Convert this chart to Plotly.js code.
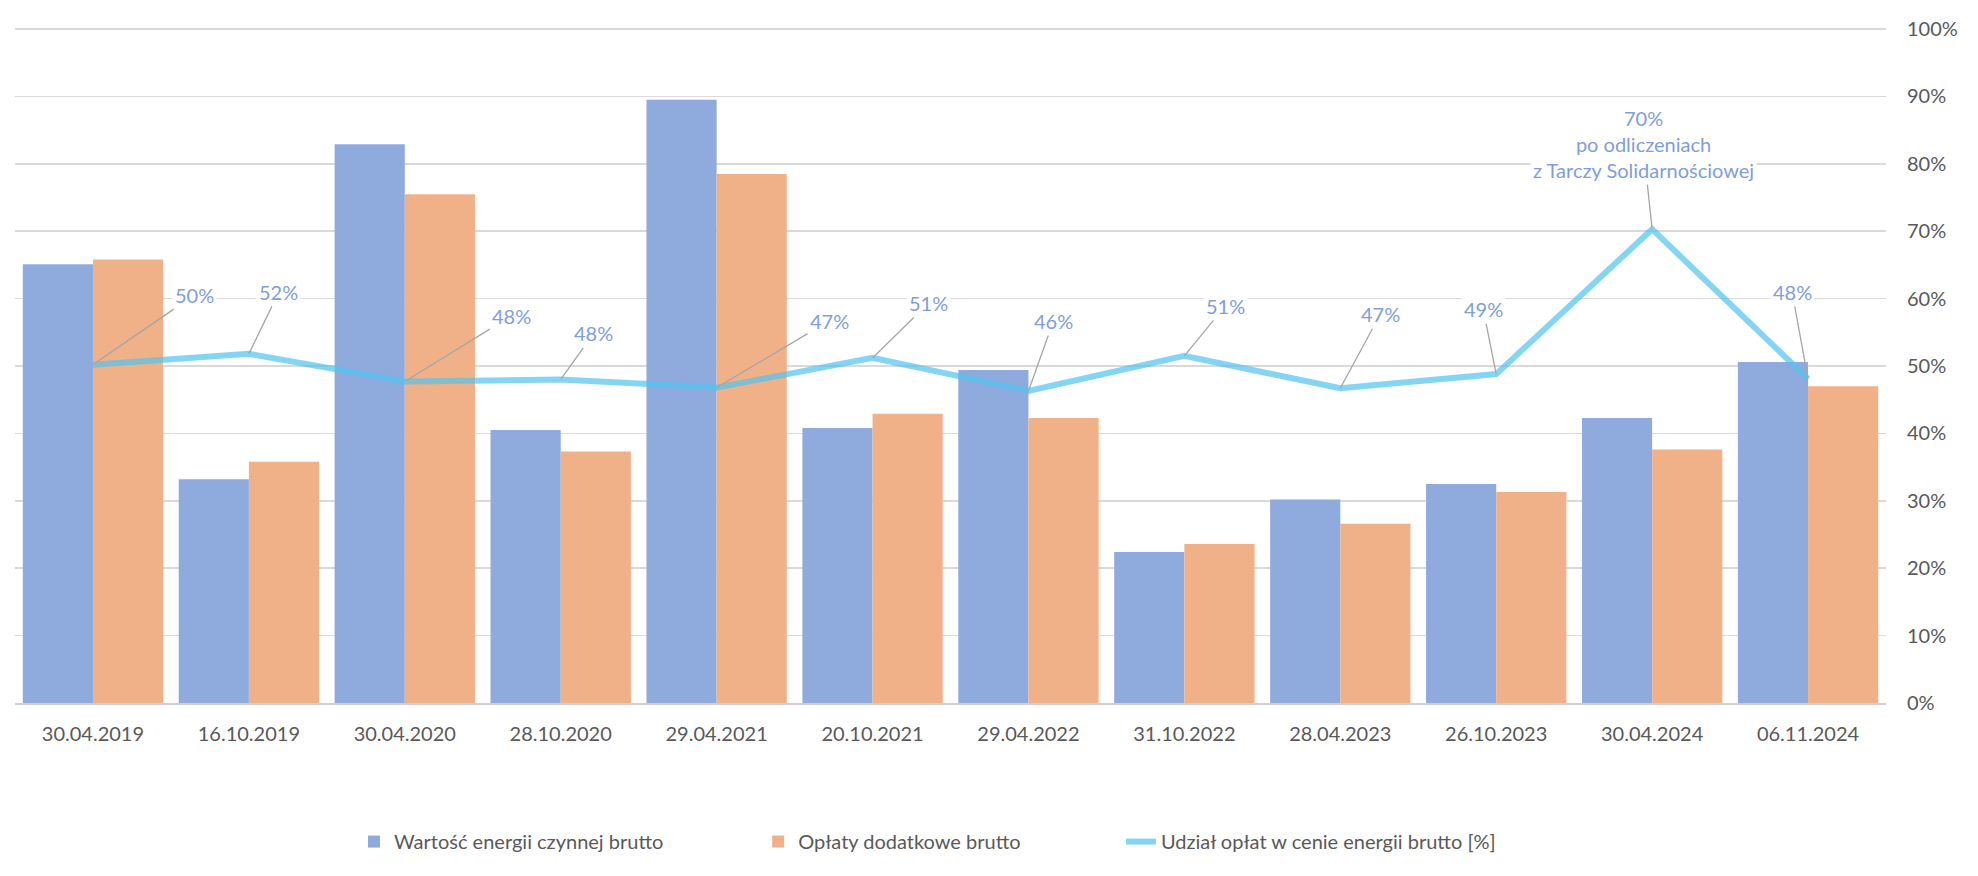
<!DOCTYPE html>
<html>
<head>
<meta charset="utf-8">
<script src="https://cdn.plot.ly/plotly-3.0.1.min.js"></script>
<style>
  html, body { margin: 0; padding: 0; background: #ffffff; }
  #chart { width: 1978px; height: 876px; }
</style>
</head>
<body>
<div id="chart"></div>
<script>
// ---- data ----
const categories = ['30.04.2019','16.10.2019','30.04.2020','28.10.2020','29.04.2021','20.10.2021',
                    '29.04.2022','31.10.2022','28.04.2023','26.10.2023','30.04.2024','06.11.2024'];
const energyValue = [65.1, 33.2, 82.9, 40.5, 89.5, 40.8, 49.4, 22.4, 30.2, 32.5, 42.3, 50.6];
const extraFees   = [65.8, 35.8, 75.5, 37.3, 78.5, 42.9, 42.3, 23.6, 26.6, 31.3, 37.6, 47.0];
const feeShare    = [50.2, 51.8, 47.7, 48.0, 46.8, 51.2, 46.3, 51.5, 46.7, 48.8, 70.3, 48.1];
const shareLabels = ['50%','52%','48%','48%','47%','51%','46%','51%','47%','49%',
                     '70%<br>po odliczeniach<br>z Tarczy Solidarnościowej','48%'];
const seriesNames = ['Wartość energii czynnej brutto','Opłaty dodatkowe brutto','Udział opłat w cenie energii brutto [%]'];
const rightTickVals = [0,10,20,30,40,50,60,70,80,90,100];
const rightTickText = ['0%','10%','20%','30%','40%','50%','60%','70%','80%','90%','100%'];

// label offsets (pixels) for leader lines
const labelOffsetX = [102, 30, 107, 33, 113, 56, 25, 41, 40, -13, -9, -16];
const labelOffsetY = [-70, -62, -66, -46, -67, -55, -70, -50, -74, -65, -85, -87];

const FONT = 'Lato, "Open Sans", sans-serif';
const TXT = '#595959';

const traces = [
  { type: 'bar', name: seriesNames[0], x: categories, y: energyValue, yaxis: 'y', legend: 'legend',
    marker: { color: '#8FAADC' }, hoverinfo: 'x+y' },
  { type: 'bar', name: seriesNames[1], x: categories, y: extraFees, yaxis: 'y', legend: 'legend2',
    marker: { color: '#F1B188' }, hoverinfo: 'x+y' },
  { type: 'scatter', mode: 'lines', name: seriesNames[2], x: categories, y: feeShare, yaxis: 'y2', legend: 'legend3',
    line: { color: 'rgba(80,195,240,0.7)', width: 6 } }
];

const annotations = categories.map((c, i) => ({
  x: c, y: feeShare[i], xref: 'x', yref: 'y2',
  text: shareLabels[i],
  showarrow: true, arrowhead: 0, arrowwidth: 1.3, arrowcolor: '#a6a6a6',
  ax: labelOffsetX[i], ay: labelOffsetY[i],
  bgcolor: '#ffffff', borderpad: 2,
  font: { family: FONT, size: 20, color: '#7F9EDA' }
}));

function legendAt(x) {
  return { orientation: 'h', x: x, xanchor: 'left', y: -0.205, yanchor: 'middle',
           font: { family: FONT, size: 20, color: TXT }, bgcolor: 'rgba(0,0,0,0)' };
}

const layout = {
  width: 1978, height: 876,
  margin: { l: 15, r: 92, t: 27, b: 173 },
  paper_bgcolor: '#ffffff', plot_bgcolor: '#ffffff',
  font: { family: FONT, size: 20, color: TXT },
  barmode: 'group', bargap: 0.1, bargroupgap: 0,
  showlegend: true,
  legend: legendAt(0.1812),
  legend2: legendAt(0.3972),
  legend3: legendAt(0.5911),
  xaxis: { type: 'category', showgrid: false, showline: true, linecolor: '#d0d0d0', linewidth: 1.5,
           ticks: '', tickfont: { family: FONT, size: 20, color: TXT }, ticklabelstandoff: 12,
           fixedrange: true },
  yaxis: { range: [0, 100.3], showgrid: false, showticklabels: false, zeroline: false, showline: false,
           fixedrange: true },
  yaxis2: { range: [0, 100.3], overlaying: 'y', side: 'right', tickmode: 'array',
            tickvals: rightTickVals, ticktext: rightTickText,
            showgrid: true, gridcolor: '#d9d9d9', gridwidth: 1.5, zeroline: false, showline: false,
            ticks: '', ticklabelstandoff: 20,
            tickfont: { family: FONT, size: 20, color: TXT }, fixedrange: true },
  annotations: annotations
};

Plotly.newPlot('chart', traces, layout, { displayModeBar: false, staticPlot: true });
</script>
</body>
</html>
